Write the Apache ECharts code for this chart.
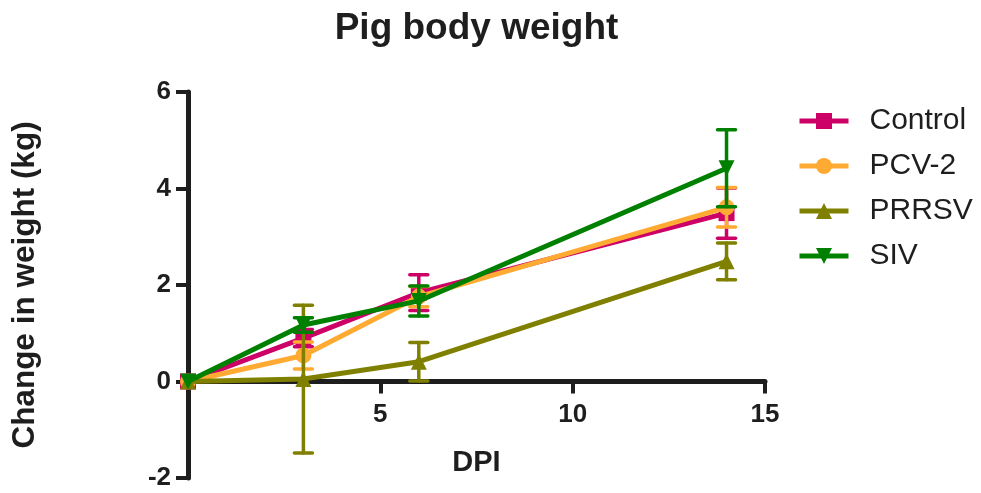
<!DOCTYPE html>
<html>
<head>
<meta charset="utf-8">
<script src="https://cdn.jsdelivr.net/npm/echarts@6/dist/echarts.min.js"></script>
<style>
  html, body { margin: 0; padding: 0; background: #fff; }
  #chart { width: 981px; height: 493px; }
</style>
</head>
<body>
<div id="chart"></div>
<script>
// Days post infection and mean weight change (kg) with error half-widths
const dpi = [0, 3, 6, 14];
const groupNames = ['Control', 'PCV-2', 'PRRSV', 'SIV'];
const controlMean = [0, 0.90, 1.84, 3.49];
const controlErr  = [0, 0.18, 0.37, 0.52];
const pcv2Mean    = [0, 0.54, 1.76, 3.61];
const pcv2Err     = [0, 0.28, 0.21, 0.41];
const prrsvMean   = [0, 0.05, 0.41, 2.49];
const prrsvErr    = [0, 1.53, 0.40, 0.38];
const sivMean     = [0, 1.17, 1.67, 4.42];
const sivErr      = [0, 0.15, 0.31, 0.80];
const yTicks = [-2, 0, 2, 4, 6];
const xTicks = [5, 10, 15];

const groups = [
  { name: groupNames[0], mean: controlMean, err: controlErr, color: '#CC0066', symbol: 'rect', rotate: 0 },
  { name: groupNames[1], mean: pcv2Mean, err: pcv2Err, color: '#FFAA33', symbol: 'circle', rotate: 0 },
  { name: groupNames[2], mean: prrsvMean, err: prrsvErr, color: '#808000', symbol: 'triangle', rotate: 0 },
  { name: groupNames[3], mean: sivMean, err: sivErr, color: '#008000', symbol: 'triangle', rotate: 180 }
];

const axisColor = '#1e1e1e';
const fontFamily = 'Liberation Sans, Arial, Helvetica, sans-serif';

// plot area and the y range; the x axis sits on y = 0
const gridTop = 92, gridBottom = 15, chartHeight = 493;
const yMin = -2, yMax = 6;
const plotHeight = chartHeight - gridTop - gridBottom;
const xAxisLift = plotHeight * (0 - yMin) / (yMax - yMin);

function errorBarSeries(g, idx) {
  const data = dpi.map((x, i) => [x, g.mean[i] - g.err[i], g.mean[i] + g.err[i]]);
  return {
    type: 'custom',
    name: g.name + ' error',
    z: 3 + idx * 2,
    silent: true,
    data: data,
    encode: { x: 0, y: [1, 2] },
    renderItem: function (params, api) {
      const x = api.value(0);
      const lo = api.coord([x, api.value(1)]);
      const hi = api.coord([x, api.value(2)]);
      if (Math.abs(lo[1] - hi[1]) < 0.5) return null;
      const half = 9;
      const style = { stroke: g.color, lineWidth: 3.5, lineCap: 'round' };
      return {
        type: 'group',
        children: [
          { type: 'line', shape: { x1: lo[0], y1: lo[1], x2: hi[0], y2: hi[1] }, style: style },
          { type: 'line', shape: { x1: lo[0] - half, y1: lo[1], x2: lo[0] + half, y2: lo[1] }, style: style },
          { type: 'line', shape: { x1: hi[0] - half, y1: hi[1], x2: hi[0] + half, y2: hi[1] }, style: style }
        ]
      };
    }
  };
}

function lineSeries(g, idx) {
  return {
    type: 'line',
    name: g.name,
    z: 4 + idx * 2,
    data: dpi.map((x, i) => [x, g.mean[i]]),
    symbol: g.symbol,
    symbolSize: 16,
    symbolRotate: g.rotate,
    showAllSymbol: true,
    lineStyle: { color: g.color, width: 5 },
    itemStyle: { color: g.color },
    emphasis: { disabled: true },
    animation: false
  };
}

const series = [];
groups.forEach((g, i) => {
  series.push(errorBarSeries(g, i));
  series.push(lineSeries(g, i));
});

const chart = echarts.init(document.getElementById('chart'), null, { renderer: 'canvas' });
chart.setOption({
  animation: false,
  backgroundColor: '#ffffff',
  title: {
    text: 'Pig body weight',
    left: 471.5,
    top: 5,
    textAlign: 'center',
    textStyle: { fontFamily: fontFamily, fontSize: 37, fontWeight: 'bold', color: '#1e1e1e' }
  },
  legend: {
    orient: 'vertical',
    left: 792,
    top: 101,
    itemWidth: 49,
    itemHeight: 20,
    itemGap: 15,
    data: groupNames,
    lineStyle: { width: 5 },
    textStyle: { fontFamily: fontFamily, fontSize: 30, color: '#1e1e1e', padding: [0, 0, 0, 16] }
  },
  grid: {
    left: 188, right: 216, top: gridTop, bottom: gridBottom,
    containLabel: false, outerBoundsMode: 'none'
  },
  xAxis: {
    type: 'value',
    position: 'bottom',
    offset: -xAxisLift,
    min: 0,
    max: 15,
    interval: 5,
    name: 'DPI',
    nameLocation: 'middle',
    nameGap: 67,
    nameTextStyle: { fontFamily: fontFamily, fontSize: 29, fontWeight: 'bold', color: '#1e1e1e' },
    axisLine: { onZero: false, lineStyle: { color: axisColor, width: 5 } },
    axisTick: { show: true, length: 12, lineStyle: { color: axisColor, width: 4 } },
    axisLabel: {
      margin: 20,
      fontFamily: fontFamily, fontSize: 26, fontWeight: 'bold', color: '#1e1e1e',
      formatter: function (v) { return xTicks.indexOf(v) >= 0 ? String(v) : ''; }
    },
    splitLine: { show: false }
  },
  yAxis: {
    type: 'value',
    min: yMin,
    max: yMax,
    interval: 2,
    name: 'Change in weight (kg)',
    nameLocation: 'middle',
    nameGap: 147,
    nameTextStyle: { fontFamily: fontFamily, fontSize: 31.5, fontWeight: 'bold', color: '#1e1e1e' },
    axisLine: { show: true, onZero: false, lineStyle: { color: axisColor, width: 5 } },
    axisTick: { show: true, length: 12, lineStyle: { color: axisColor, width: 4 } },
    axisLabel: {
      margin: 17,
      fontFamily: fontFamily, fontSize: 26, fontWeight: 'bold', color: '#1e1e1e',
      formatter: function (v) { return yTicks.indexOf(v) >= 0 ? String(v) : ''; }
    },
    splitLine: { show: false }
  },
  series: series
});
</script>
</body>
</html>
